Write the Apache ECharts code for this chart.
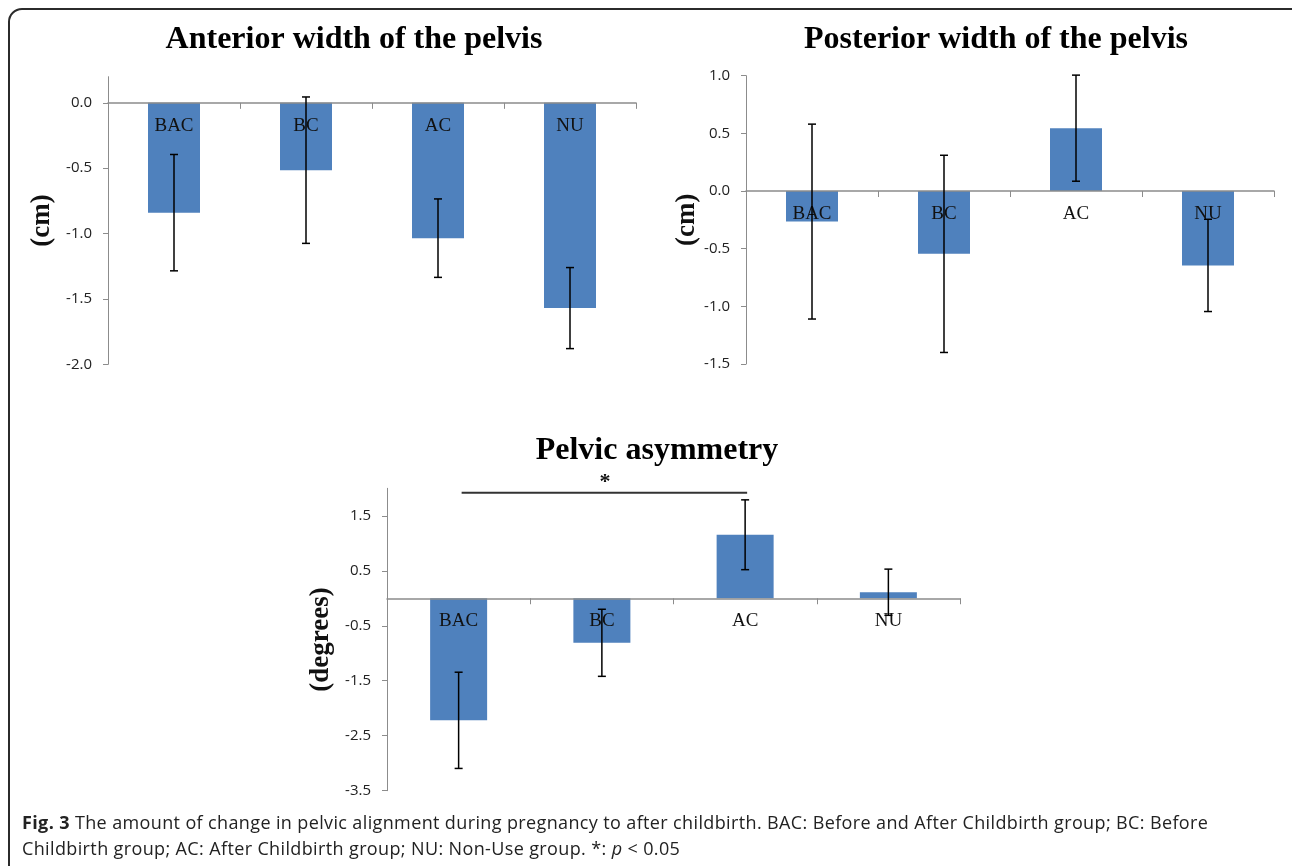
<html>
<head>
<meta charset="utf-8">
<script src="https://cdn.jsdelivr.net/npm/echarts@6/dist/echarts.min.js"></script>
<style>
  body { margin: 0; background: #fff; }
  #frame {
    position: absolute; left: 8px; top: 8px; width: 1310px; height: 900px;
    border: 2px solid #2b2b2b; border-radius: 14px; box-sizing: border-box;
  }
  #container { position: absolute; left: 0; top: 0; width: 1292px; height: 866px; }
  #caption {
    position: absolute; left: 22px; top: 809px; white-space: nowrap;
    font-family: "Open Sans", sans-serif; font-size: 18px; letter-spacing: 0.37px;
    line-height: 26px; color: #222;
  }
</style>
</head>
<body>
<div id="frame"></div>
<div id="container"></div>
<div id="caption"><b>Fig. 3</b> The amount of change in pelvic alignment during pregnancy to after childbirth. BAC: Before and After Childbirth group; BC: Before<br>Childbirth group; AC: After Childbirth group; NU: Non-Use group. *: <i>p</i> &lt; 0.05</div>
<script>
const CATEGORIES = ['BAC', 'BC', 'AC', 'NU'];

// Anterior width of the pelvis (cm): mean and error
const ANTERIOR_MEAN = [-0.84, -0.515, -1.035, -1.57];
const ANTERIOR_ERR = [0.445, 0.56, 0.30, 0.31];

// Posterior width of the pelvis (cm)
const POSTERIOR_MEAN = [-0.265, -0.545, 0.545, -0.645];
const POSTERIOR_ERR = [0.845, 0.855, 0.46, 0.40];

// Pelvic asymmetry (degrees)
const ASYM_MEAN = [-2.22, -0.81, 1.155, 0.11];
const ASYM_ERR = [0.875, 0.61, 0.635, 0.42];

// significance bracket on the asymmetry chart: BAC vs AC
const SIG_PAIR = ['BAC', 'AC'];
const SIG_LEVEL = 1.92;
const SIG_MARK = '*';

const BAR_COLOR = '#4f81bd';
const AXIS_COLOR = '#8c8c8c';
const SERIF = '"Liberation Serif", "Times New Roman", serif';

function yAxis(idx, min, max, interval, name, nameGap, showMax) {
        return {
                type: 'value', gridIndex: idx, min, max, interval,
                name, nameLocation: 'middle', nameRotate: 90, nameGap,
                nameTextStyle: { fontFamily: SERIF, fontSize: 27, fontWeight: 'bold', color: '#111' },
                axisLine: { show: true, lineStyle: { color: AXIS_COLOR, width: 1 } },
                axisTick: { show: true, length: 5, lineStyle: { color: AXIS_COLOR } },
                splitLine: { show: false },
                axisLabel: {
                        showMaxLabel: showMax, margin: 16,
                        fontFamily: '"Open Sans", sans-serif', fontSize: 15, color: '#222',
                        formatter: v => v.toFixed(1)
                }
        };
}

function xAxis(idx) {
        return {
                type: 'category', gridIndex: idx, data: CATEGORIES, z: 10,
                axisLine: { onZero: true, lineStyle: { color: AXIS_COLOR, width: 1.5 } },
                axisTick: { show: true, length: 6, lineStyle: { color: AXIS_COLOR } },
                axisLabel: { show: false }
        };
}

function barSeries(idx, means, width) {
        return {
                type: 'bar', xAxisIndex: idx, yAxisIndex: idx, data: means,
                barWidth: width, itemStyle: { color: BAR_COLOR }
        };
}

// category names sit just under the zero line, as in the original
function labelSeries(idx) {
        return {
                type: 'custom', xAxisIndex: idx, yAxisIndex: idx, z: 15, silent: true,
                data: CATEGORIES.map((c, i) => [i, 0]),
                renderItem: function (params, api) {
                        const p = api.coord([api.value(0), api.value(1)]);
                        return {
                                type: 'text', style: {
                                        text: CATEGORIES[params.dataIndex], x: p[0], y: p[1] + 23,
                                        align: 'center', verticalAlign: 'middle',
                                        font: '19px ' + SERIF, fill: '#111'
                                }
                        };
                }
        };
}

function errorSeries(idx, means, errs) {
        return {
                type: 'custom', xAxisIndex: idx, yAxisIndex: idx, z: 20,
                encode: { x: 0, y: [1, 2] },
                data: means.map((m, i) => [i, m - errs[i], m + errs[i]]),
                renderItem: function (params, api) {
                        const lo = api.coord([api.value(0), api.value(1)]);
                        const hi = api.coord([api.value(0), api.value(2)]);
                        const style = { stroke: '#000', lineWidth: 1.5 };
                        return {
                                type: 'group', children: [
                                        { type: 'line', shape: { x1: hi[0], y1: hi[1], x2: lo[0], y2: lo[1] }, style },
                                        { type: 'line', shape: { x1: hi[0] - 4, y1: hi[1], x2: hi[0] + 4, y2: hi[1] }, style },
                                        { type: 'line', shape: { x1: lo[0] - 4, y1: lo[1], x2: lo[0] + 4, y2: lo[1] }, style }
                                ]
                        };
                }
        };
}

function sigSeries(idx) {
        return {
                type: 'custom', xAxisIndex: idx, yAxisIndex: idx, z: 20,
                data: [[CATEGORIES.indexOf(SIG_PAIR[0]), CATEGORIES.indexOf(SIG_PAIR[1]), SIG_LEVEL]],
                renderItem: function (params, api) {
                        const a = api.coord([api.value(0), api.value(2)]);
                        const b = api.coord([api.value(1), api.value(2)]);
                        return {
                                type: 'group', children: [
                                        { type: 'line', shape: { x1: a[0] + 3, y1: a[1], x2: b[0] + 2, y2: b[1] }, style: { stroke: '#333', lineWidth: 2 } },
                                        {
                                                type: 'text', style: {
                                                        text: SIG_MARK, x: (a[0] + b[0]) / 2 + 3, y: a[1] + 1,
                                                        align: 'center', verticalAlign: 'bottom',
                                                        font: 'bold 22px ' + SERIF, fill: '#111'
                                                }
                                        }
                                ]
                        };
                }
        };
}

let mychart = echarts.init(document.getElementById('container'));

const titleStyle = { fontFamily: SERIF, fontSize: 32, fontWeight: 'bold', color: '#000' };

const option = {
        animation: false,
        title: [
                { text: 'Anterior width of the pelvis', left: 349, top: 19, textAlign: 'center', textStyle: titleStyle },
                { text: 'Posterior width of the pelvis', left: 991, top: 19, textAlign: 'center', textStyle: titleStyle },
                { text: 'Pelvic asymmetry', left: 652, top: 430, textAlign: 'center', textStyle: titleStyle }
        ],
        grid: [
                { left: 108, top: 76.7, width: 528, height: 287.6 },
                { left: 746, top: 75.7, width: 528, height: 288.3 },
                { left: 387, top: 488.3, width: 573, height: 302.4 }
        ],
        xAxis: [xAxis(0), xAxis(1), xAxis(2)],
        yAxis: [
                yAxis(0, -2.0, 0.2, 0.5, '(cm)', 52, false),
                yAxis(1, -1.5, 1.0, 0.5, '(cm)', 42, true),
                yAxis(2, -3.5, 2.0, 1, '(degrees)', 52, false)
        ],
        series: [
                barSeries(0, ANTERIOR_MEAN, 52),
                barSeries(1, POSTERIOR_MEAN, 52),
                barSeries(2, ASYM_MEAN, 57),
                labelSeries(0),
                labelSeries(1),
                labelSeries(2),
                errorSeries(0, ANTERIOR_MEAN, ANTERIOR_ERR),
                errorSeries(1, POSTERIOR_MEAN, POSTERIOR_ERR),
                errorSeries(2, ASYM_MEAN, ASYM_ERR),
                sigSeries(2)
        ]
};

mychart.setOption(option);
</script>
</body>
</html>
